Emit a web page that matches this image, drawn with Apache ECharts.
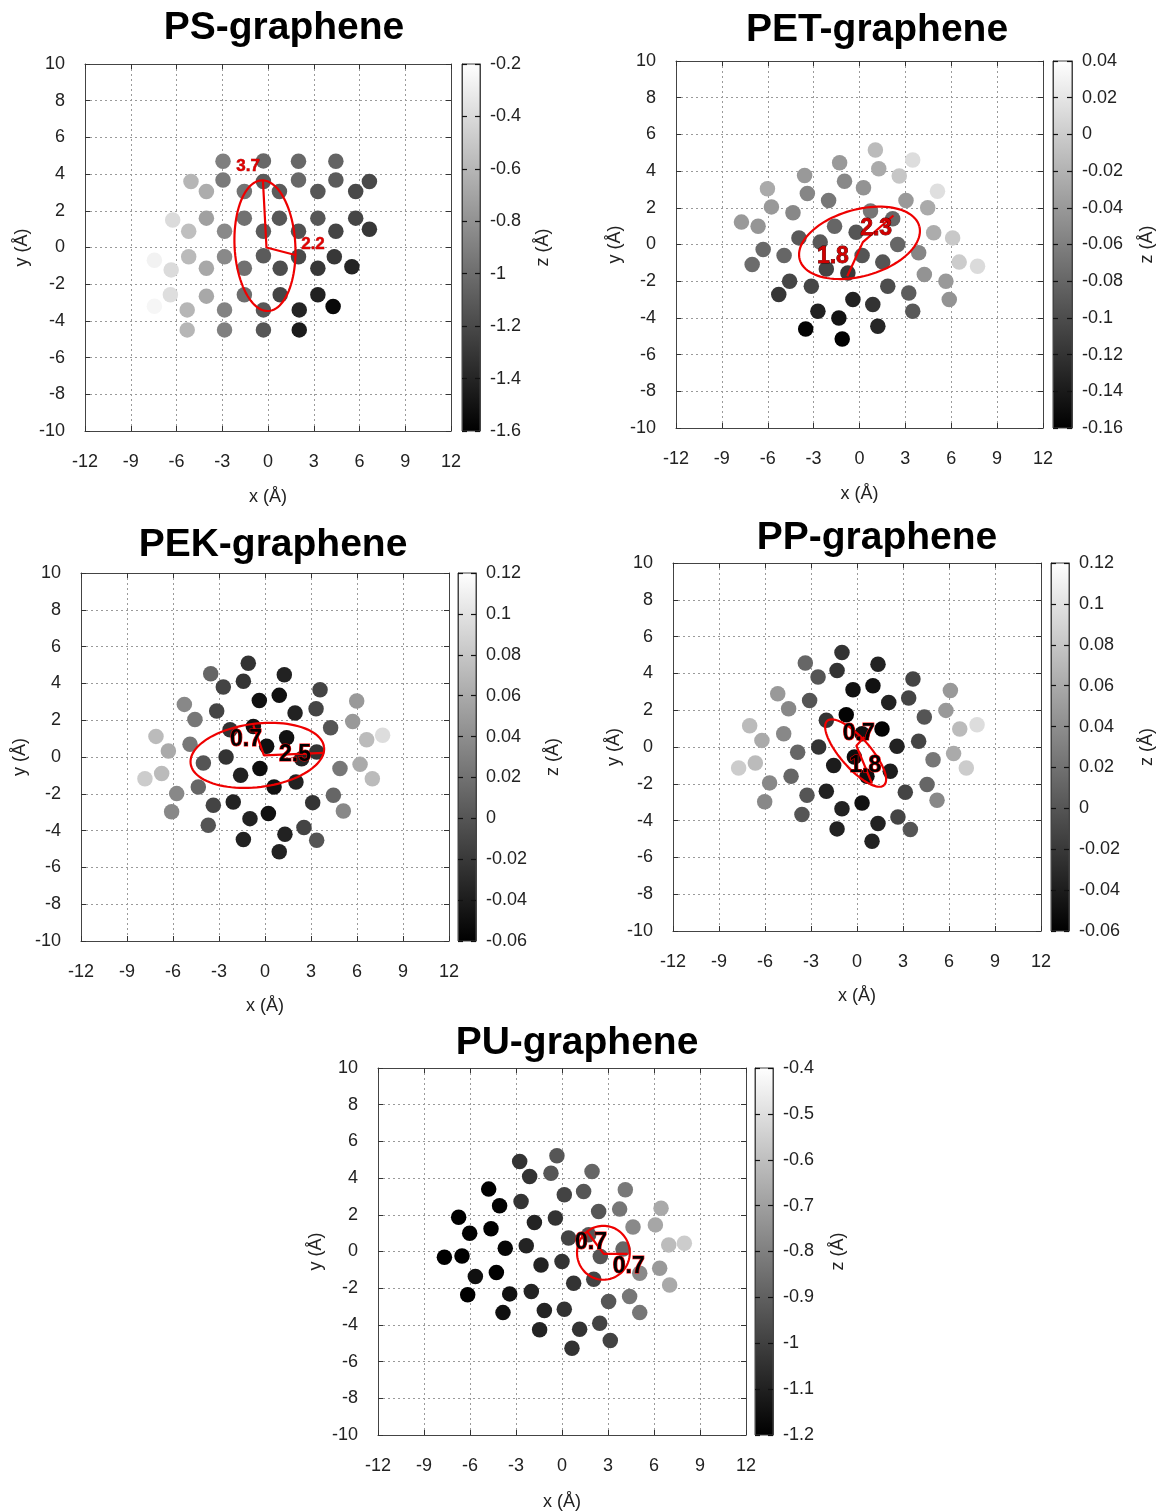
<!DOCTYPE html>
<html><head><meta charset="utf-8">
<script src="https://cdn.jsdelivr.net/npm/echarts@6/dist/echarts.min.js"></script>
<style>html,body{margin:0;padding:0;background:#fff}#c{width:1160px;height:1512px}</style>
</head><body><div id="c"></div>
<script>
// ---------- shared tick labels ----------
const xTicks = [-12,-9,-6,-3,0,3,6,9,12];
const yTicks = [-10,-8,-6,-4,-2,0,2,4,6,8,10];

// ---------- PS-graphene ----------
const psX = [-2.95,-0.3,2.0,4.45, -5.05,-2.95,-0.3,2.0,4.45,6.65, -4.04,-1.55,0.75,3.27,5.75, -6.25,-4.04,-1.55,0.75,3.27,5.75, -5.2,-2.85,-0.3,2.0,4.45,6.65, -7.45,-5.2,-2.85,-0.3,2.0,4.35, -6.35,-4.04,-1.55,0.8,3.27,5.5, -7.45,-6.4,-4.04,-1.55,0.8,3.27, -5.3,-2.85,-0.3,2.05,4.27, -5.3,-2.85,-0.3,2.05];
const psY = [4.7,4.72,4.7,4.7, 3.6,3.68,3.6,3.68,3.68,3.6, 3.05,3.05,3.05,3.05,3.05, 1.5,1.6,1.6,1.6,1.6,1.6, 0.88,0.88,0.88,0.88,0.88,1.0, -0.7,-0.5,-0.5,-0.45,-0.5,-0.5, -1.22,-1.13,-1.13,-1.13,-1.13,-1.05, -3.2,-2.58,-2.65,-2.58,-2.58,-2.58, -3.4,-3.4,-3.4,-3.4,-3.22, -4.49,-4.49,-4.49,-4.49];
const psZ = [-0.9,-1.03,-1.03,-1.05, -0.6,-0.93,-1.1,-1.03,-1.1,-1.2, -0.65,-0.97,-1.1,-1.12,-1.2, -0.4,-0.72,-0.98,-1.12,-1.12,-1.22, -0.55,-0.85,-1.1,-1.15,-1.22,-1.3, -0.27,-0.58,-0.85,-1.1,-1.2,-1.3, -0.4,-0.68,-0.98,-1.18,-1.3,-1.4, -0.25,-0.38,-0.68,-1.0,-1.22,-1.42, -0.6,-0.88,-1.12,-1.4,-1.55, -0.6,-0.9,-1.12,-1.45];
const psZTicks = [-1.6,-1.4,-1.2,-1.0,-0.8,-0.6,-0.4,-0.2];
const psEll = [-0.2,0.1,-0.22,3.56,1.99,0.08];
const psArm = [[-0.33,3.62],[-0.1,0.0],[1.85,-0.42]];
const psLabText = ['3.7','2.2'];
const psLabX = [-1.31,2.95];
const psLabY = [4.45,0.15];

// ---------- PET-graphene ----------
const petX = [1.04,3.48,-1.3,1.26,-3.59,-0.98,0.26,2.6,-6.02,-3.41,5.1,-2.02,3.04,-5.76,-4.35,0.72,4.46,2.17,-7.72,-6.63,-1.63,-0.22,4.85,-3.96,-2.57,6.09,2.5,-6.3,-4.93,0.17,3.87,6.52,7.72,-7.02,-2.17,-0.76,1.52,4.24,-4.57,-3.15,5.65,1.85,-5.28,3.22,-0.43,5.87,-2.72,0.87,3.48,-1.35,-3.52,1.2,-1.13];
const petY = [5.15,4.6,4.45,4.13,3.76,3.45,3.09,3.73,3.04,2.78,2.9,2.4,2.4,2.05,1.73,1.82,2.0,1.4,1.22,1.0,1.0,0.67,0.64,0.36,0.13,0.36,0.0,-0.27,-0.6,-0.6,-0.45,-0.96,-1.18,-1.09,-1.33,-1.55,-0.96,-1.64,-2.0,-2.27,-2.0,-2.27,-2.73,-2.64,-3.0,-3.0,-3.64,-3.27,-3.64,-4.0,-4.6,-4.45,-5.15];
const petZ = [-0.013,0.013,-0.04,-0.027,-0.04,-0.053,-0.045,-0.005,-0.027,-0.055,0.015,-0.067,-0.04,-0.04,-0.053,-0.067,-0.027,-0.08,-0.04,-0.043,-0.08,-0.093,-0.025,-0.09,-0.09,-0.003,-0.08,-0.078,-0.08,-0.093,-0.055,0.0,0.012,-0.075,-0.107,-0.115,-0.093,-0.045,-0.105,-0.105,-0.04,-0.1,-0.118,-0.088,-0.133,-0.045,-0.135,-0.12,-0.09,-0.145,-0.158,-0.13,-0.16];
const petZTicks = [-0.16,-0.14,-0.12,-0.1,-0.08,-0.06,-0.04,-0.02,0,0.02,0.04];
const petEll = [0,0.09,3.91,0.91,0.58,-1.75];
const petArm = [[-0.8,-1.73],[0.22,0.13],[2.22,1.58]];
const petLabText = ['2.3','1.8'];
const petLabX = [1.09,-1.74];
const petLabY = [0.85,-0.64];

// ---------- PEK-graphene ----------
const pekX = [-1.09,-3.54,-1.41,1.26,-2.72,-0.37,0.93,3.59,-5.26,-3.15,1.96,3.33,5.98,-4.57,-0.76,-2.28,1.41,4.28,5.72,-7.11,7.67,-6.3,-4.89,0.11,6.63,3.37,-4.02,-2.54,2.39,-0.33,4.89,6.2,-7.83,-6.74,-1.59,0.59,2.02,-4.35,7.0,-5.76,-2.07,4.46,-3.37,3.11,-6.09,5.11,-0.98,0.22,-3.7,2.54,1.3,-1.41,3.37,0.93];
const pekY = [5.1,4.52,4.12,4.47,3.8,3.07,3.35,3.65,2.86,2.5,2.39,2.62,3.04,2.04,1.66,1.48,1.05,1.59,1.93,1.12,1.18,0.33,0.69,0.58,0.94,0.27,-0.33,0.0,-0.09,-0.63,-0.63,-0.4,-1.18,-0.9,-0.99,-1.63,-1.36,-1.63,-1.18,-1.99,-2.44,-2.08,-2.62,-2.48,-2.98,-2.93,-3.35,-3.07,-3.71,-3.83,-4.2,-4.48,-4.52,-5.15];
const pekZ = [-0.024,0.012,-0.024,-0.036,-0.012,-0.048,-0.048,-0.012,0.036,-0.012,-0.036,-0.012,0.048,0.024,-0.048,-0.024,-0.048,0.0,0.048,0.072,0.096,0.06,0.024,-0.048,0.072,-0.024,0.0,-0.024,-0.036,-0.05,0.024,0.06,0.084,0.072,-0.036,-0.048,-0.036,0.012,0.072,0.036,-0.036,0.012,-0.012,-0.024,0.036,0.036,-0.036,-0.048,0.0,-0.012,-0.036,-0.036,0.0,-0.036];
const pekZTicks = [-0.06,-0.04,-0.02,0,0.02,0.04,0.06,0.08,0.1,0.12];
const pekEll = [-0.5,0.09,4.35,0.45,0.26,-1.71];
const pekArm = [[-0.76,1.72],[-0.07,0.09],[3.85,0.22]];
const pekLabText = ['0.7','2.5'];
const pekLabX = [-1.24,1.96];
const pekLabY = [0.94,0.13];

// ---------- PP-graphene ----------
const ppX = [-0.98,-3.37,-1.3,1.37,-2.54,-0.26,1.04,3.65,-5.17,-3.09,2.07,3.37,6.09,-4.46,-0.7,-2.0,1.63,4.39,5.8,-7.0,7.83,-6.2,-4.78,0.33,6.7,4.02,-3.87,-2.5,2.61,-0.17,4.96,6.3,-7.72,-6.63,-1.52,0.65,2.17,-4.3,7.13,-5.7,-2.0,4.57,-3.26,3.15,-6.02,5.22,-0.98,0.33,-3.59,2.67,1.37,-1.3,3.48,0.98];
const ppY = [5.14,4.56,4.16,4.5,3.8,3.11,3.33,3.69,2.89,2.53,2.42,2.66,3.07,2.08,1.75,1.45,0.98,1.63,1.99,1.16,1.21,0.36,0.72,0.72,0.98,0.31,-0.29,0.0,0.04,-0.54,-0.69,-0.36,-1.14,-0.87,-1.01,-1.59,-1.32,-1.59,-1.14,-1.95,-2.41,-2.04,-2.62,-2.46,-2.98,-2.89,-3.36,-3.04,-3.67,-3.8,-4.16,-4.45,-4.48,-5.12];
const ppZ = [-0.024,0.012,-0.024,-0.036,0.0,-0.048,-0.048,-0.012,0.048,0.0,-0.036,-0.012,0.048,0.036,-0.058,-0.024,-0.058,0.0,0.048,0.072,0.096,0.06,0.036,-0.048,0.072,-0.012,0.012,-0.024,-0.036,-0.05,0.024,0.06,0.084,0.072,-0.04,-0.05,-0.04,0.012,0.084,0.036,-0.036,0.012,0.0,-0.012,0.036,0.036,-0.036,-0.048,0.0,-0.012,-0.036,-0.036,0.0,-0.036];
const ppZTicks = [-0.06,-0.04,-0.02,0,0.02,0.04,0.06,0.08,0.1,0.12];
const ppEll = [-0.09,-0.33,1.85,-1.75,0.73,0.54];
const ppArm = [[0.48,0.54],[-0.04,0.07],[0.98,-1.99]];
const ppLabText = ['0.7','1.8'];
const ppLabX = [0.11,0.54];
const ppLabY = [0.72,-1.01];

// ---------- PU-graphene ----------
const puX = [-0.33,-2.76,-0.72,-2.11,1.96,4.13,-4.78,0.15,1.41,-2.67,-4.07,6.46,3.76,2.39,-6.74,-0.43,-1.8,4.63,6.09,-4.63,-6.02,0.43,1.74,6.96,7.98,-2.33,-3.7,3.98,2.5,-7.67,-6.52,0.0,-1.37,5.07,6.37,-4.28,-5.65,2.07,0.76,7.02,-2.0,-3.41,-6.15,4.41,3.04,5.07,0.15,-1.15,-3.85,2.46,1.15,-1.46,3.15,0.65];
const puY = [5.22,4.91,4.27,4.09,4.36,3.36,3.4,3.09,3.27,2.73,2.49,2.36,2.31,2.18,1.87,1.82,1.58,1.33,1.45,1.24,1.0,0.73,0.91,0.36,0.45,0.31,0.18,0.13,-0.27,-0.31,-0.24,-0.55,-0.73,-1.18,-0.91,-1.15,-1.36,-1.51,-1.73,-1.82,-2.18,-2.31,-2.36,-2.45,-2.73,-3.33,-3.15,-3.22,-3.33,-3.91,-4.24,-4.27,-4.85,-5.27];
const puZ = [-0.93,-1.04,-0.93,-1.04,-0.88,-0.82,-1.2,-0.99,-0.93,-1.04,-1.19,-0.67,-0.83,-0.93,-1.2,-1.04,-1.09,-0.77,-0.68,-1.2,-1.19,-0.99,-0.93,-0.61,-0.56,-1.09,-1.18,-0.88,-0.93,-1.2,-1.2,-1.04,-1.09,-0.77,-0.72,-1.2,-1.15,-0.99,-1.04,-0.67,-1.09,-1.15,-1.2,-0.83,-0.93,-0.83,-1.04,-1.09,-1.15,-0.99,-1.04,-1.09,-0.99,-1.04];
const puZTicks = [-1.2,-1.1,-1.0,-0.9,-0.8,-0.7,-0.6,-0.5,-0.4];
const puEll = [2.7,-0.07,1.72,0,0,1.47];
const puArm = [[1.63,1.09],[2.72,-0.13],[4.28,-0.13]];
const puLabText = ['0.7','0.7'];
const puLabX = [1.89,4.35];
const puLabY = [0.49,-0.85];

// ---------- layout / style ----------
const FONT = '"Liberation Sans", Arial, Helvetica, sans-serif';
const redSmall = {color:'#e00000', fontSize:17, fontWeight:'bold', textBorderColor:'#900000', textBorderWidth:0.5};
const redBig = {color:'#d00000', fontSize:23, fontWeight:'bold', textBorderColor:'#3a0000', textBorderWidth:0.8};
const blackRed = {color:'#000', fontSize:23, fontWeight:'bold', textBorderColor:'#ff0000', textBorderWidth:1.1};

const panels = [
  {title:'PS-graphene', tx:284, ty:7, X:psX, Y:psY, Z:psZ, zt:psZTicks, ell:psEll, arm:psArm, lt:psLabText, lx:psLabX, ly:psLabY,
   g:[85,64,366,367], cb:[462,18], yGap:54, xGap:57, zGap:54, ls:redSmall},
  {title:'PET-graphene', tx:877, ty:9, X:petX, Y:petY, Z:petZ, zt:petZTicks, ell:petEll, arm:petArm, lt:petLabText, lx:petLabX, ly:petLabY,
   g:[676,61,367,367], cb:[1053,19], yGap:52, xGap:57, zGap:66, ls:redBig},
  {title:'PEK-graphene', tx:273, ty:524, X:pekX, Y:pekY, Z:pekZ, zt:pekZTicks, ell:pekEll, arm:pekArm, lt:pekLabText, lx:pekLabX, ly:pekLabY,
   g:[81,573,368,368], cb:[458,18], yGap:52, xGap:56, zGap:68, ls:blackRed},
  {title:'PP-graphene', tx:877, ty:517, X:ppX, Y:ppY, Z:ppZ, zt:ppZTicks, ell:ppEll, arm:ppArm, lt:ppLabText, lx:ppLabX, ly:ppLabY,
   g:[673,563,368,368], cb:[1051,18], yGap:50, xGap:56, zGap:69, ls:blackRed},
  {title:'PU-graphene', tx:577, ty:1022, X:puX, Y:puY, Z:puZ, zt:puZTicks, ell:puEll, arm:puArm, lt:puLabText, lx:puLabX, ly:puLabY,
   g:[378,1068,368,367], cb:[755,18], yGap:53, xGap:58, zGap:56, ls:blackRed}
];

const option = {backgroundColor:'#fff', animation:false, title:[], grid:[], xAxis:[], yAxis:[], series:[], visualMap:[]};
const axisTxt = {color:'#222', fontSize:18, fontFamily:FONT};
const frameLine = {show:true, onZero:false, lineStyle:{color:'#444', width:1}};
const tickIn = {show:true, inside:true, length:5, lineStyle:{color:'#333'}};
const cbTick = {show:true, inside:true, length:5, lineStyle:{color:'#111', width:1.2}};
const gridDots = {show:true, lineStyle:{type:[2,3], color:'#9a9a9a', width:1}};

panels.forEach((p) => {
  option.title.push({text:p.title, left:p.tx, top:p.ty, textAlign:'center', padding:0,
    textStyle:{fontSize:39, fontWeight:'bold', fontFamily:FONT, color:'#000', lineHeight:42}});
  const gi = option.grid.length;
  option.grid.push({left:p.g[0], top:p.g[1], width:p.g[2], height:p.g[3], show:false});
  option.grid.push({left:p.cb[0], top:p.g[1], width:p.cb[1], height:p.g[3], show:false});
  const xi = option.xAxis.length, yi = option.yAxis.length;
  const xMin = xTicks[0], xMax = xTicks[xTicks.length-1], xInt = xTicks[1]-xTicks[0];
  const yMin = yTicks[0], yMax = yTicks[yTicks.length-1], yInt = yTicks[1]-yTicks[0];
  // main axes (xi, xi+1 / yi, yi+1)
  option.xAxis.push({type:'value', gridIndex:gi, min:xMin, max:xMax, interval:xInt, position:'bottom',
    name:'x (Å)', nameLocation:'middle', nameGap:p.xGap, nameTextStyle:axisTxt,
    axisLine:frameLine, axisTick:tickIn, axisLabel:Object.assign({margin:22}, axisTxt), splitLine:gridDots});
  option.xAxis.push({type:'value', gridIndex:gi, min:xMin, max:xMax, interval:xInt, position:'top',
    axisLine:frameLine, axisTick:tickIn, axisLabel:{show:false}, splitLine:{show:false}});
  option.yAxis.push({type:'value', gridIndex:gi, min:yMin, max:yMax, interval:yInt, position:'left',
    name:'y (Å)', nameLocation:'middle', nameGap:p.yGap, nameTextStyle:axisTxt,
    axisLine:frameLine, axisTick:tickIn, axisLabel:Object.assign({margin:20}, axisTxt), splitLine:gridDots});
  option.yAxis.push({type:'value', gridIndex:gi, min:yMin, max:yMax, interval:yInt, position:'right',
    axisLine:frameLine, axisTick:tickIn, axisLabel:{show:false}, splitLine:{show:false}});
  // colorbar axes (xi+2 / yi+2, yi+3)
  const zMin = p.zt[0], zMax = p.zt[p.zt.length-1], zInt = +(p.zt[1]-p.zt[0]).toFixed(4);
  option.xAxis.push({type:'value', gridIndex:gi+1, min:0, max:1, show:false});
  option.yAxis.push({type:'value', gridIndex:gi+1, min:zMin, max:zMax, interval:zInt, position:'left', z:5,
    axisLine:frameLine, axisTick:cbTick, axisLabel:{show:false}, splitLine:{show:false}});
  option.yAxis.push({type:'value', gridIndex:gi+1, min:zMin, max:zMax, interval:zInt, position:'right', z:5,
    name:'z (Å)', nameLocation:'middle', nameGap:p.zGap, nameTextStyle:axisTxt,
    axisLine:frameLine, axisTick:cbTick,
    axisLabel:Object.assign({margin:10}, axisTxt), splitLine:{show:false}});

  const si = option.series.length;
  // atoms
  option.series.push({type:'scatter', xAxisIndex:xi, yAxisIndex:yi, symbolSize:15.5, z:2,
    itemStyle:{opacity:1}, data:p.X.map((x,i)=>[x, p.Y[i], p.Z[i]])});
  option.visualMap.push({type:'continuous', show:false, seriesIndex:si, dimension:2, min:zMin, max:zMax,
    inRange:{color:['#000000','#ffffff']}});
  // ellipse
  option.series.push({type:'custom', xAxisIndex:xi, yAxisIndex:yi, z:5, silent:true,
    data:[p.ell],
    renderItem:(params, api) => {
      const e = [0,1,2,3,4,5].map(j=>api.value(j));
      const pts = [];
      for (let i=0;i<=96;i++){ const t=i/96*2*Math.PI;
        pts.push(api.coord([e[0]+e[2]*Math.cos(t)+e[4]*Math.sin(t), e[1]+e[3]*Math.cos(t)+e[5]*Math.sin(t)])); }
      return {type:'polyline', shape:{points:pts}, style:{stroke:'#ee0000', lineWidth:2.2, fill:null}};
    }});
  // radius arms
  option.series.push({type:'line', xAxisIndex:xi, yAxisIndex:yi, z:6, silent:true, symbol:'none',
    lineStyle:{color:'#ee0000', width:2.2}, data:p.arm});
  // labels
  option.series.push({type:'scatter', xAxisIndex:xi, yAxisIndex:yi, z:8, symbolSize:1, silent:true,
    itemStyle:{color:'rgba(0,0,0,0)'},
    label:Object.assign({show:true, position:'inside', fontFamily:FONT, opacity:1, formatter:(d)=>d.name}, p.ls),
    data:p.lt.map((t,i)=>({name:t, value:[p.lx[i], p.ly[i]]}))});
  // colorbar gradient
  option.series.push({type:'custom', xAxisIndex:xi+2, yAxisIndex:yi+2, z:1, silent:true,
    data:[[0, zMin, 1, zMax]],
    renderItem:(params, api) => {
      const a = api.coord([api.value(0), api.value(3)]);
      const b = api.coord([api.value(2), api.value(1)]);
      return {type:'rect', shape:{x:a[0], y:a[1], width:b[0]-a[0], height:b[1]-a[1]},
        style:{stroke:'#444', lineWidth:1,
          fill:new echarts.graphic.LinearGradient(0,0,0,1,[{offset:0,color:'#ffffff'},{offset:1,color:'#000000'}])}};
    }});
});

const chart = echarts.init(document.getElementById('c'), null, {renderer:'canvas'});
chart.setOption(option);
</script>
</body></html>
